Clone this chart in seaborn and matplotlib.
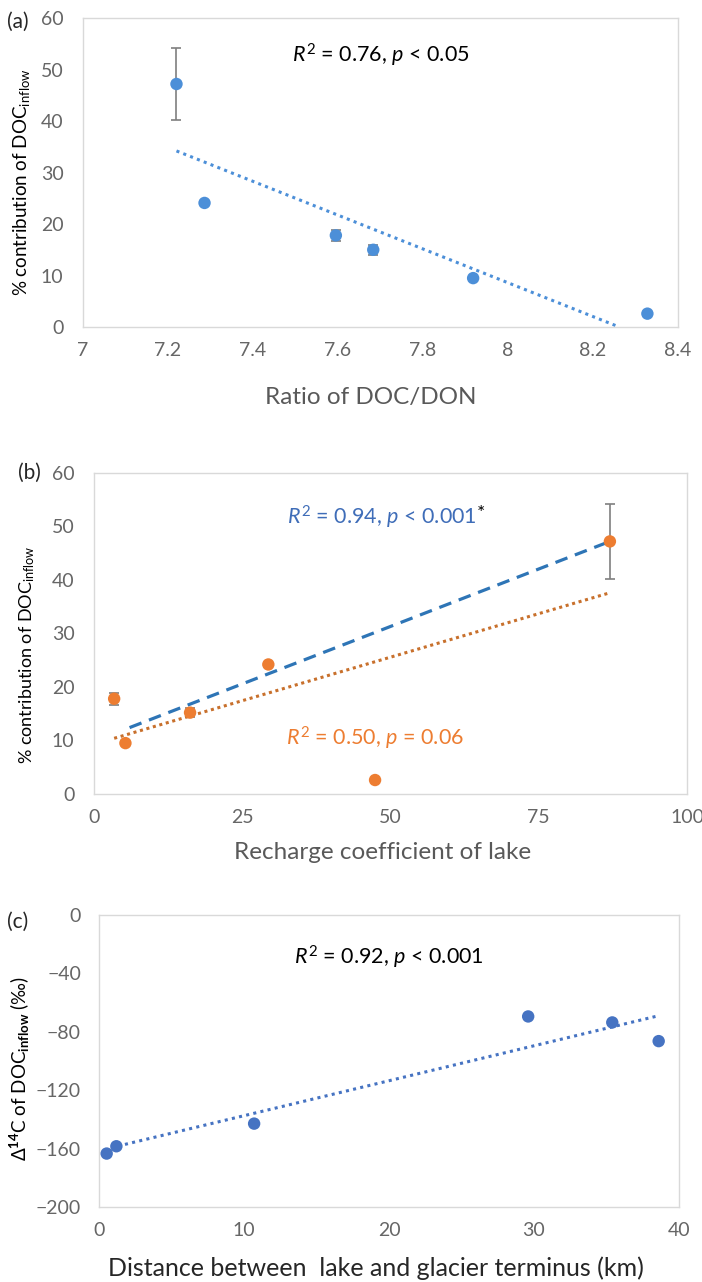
import numpy as np
import pandas as pd
import matplotlib
matplotlib.use("Agg")
import matplotlib.pyplot as plt
import seaborn as sns

# (a) DOC/DON ratio vs % contribution of DOC inflow
a_ratio = [7.22, 7.286, 7.595, 7.683, 7.918, 8.328]
a_contrib = [47.2, 24.1, 17.8, 15.0, 9.5, 2.6]
a_err = [7.0, 0.0, 1.0, 1.0, 0.0, 0.0]
a_fit_x = [7.22, 8.262]
a_fit_y = [34.2, 0.0]
a_xticks = [7, 7.2, 7.4, 7.6, 7.8, 8, 8.2, 8.4]
a_xticklabels = ["7", "7.2", "7.4", "7.6", "7.8", "8", "8.2", "8.4"]
a_yticks = [0, 10, 20, 30, 40, 50, 60]

# (b) recharge coefficient vs % contribution of DOC inflow
b_coef = [3.4, 5.3, 16.2, 29.4, 47.4, 87.0]
b_contrib = [17.8, 9.5, 15.2, 24.2, 2.6, 47.2]
b_err = [1.1, 0.0, 0.9, 0.0, 0.0, 7.0]
b_blue_fit_x = [6.0, 87.0]
b_blue_fit_y = [12.4, 47.2]
b_orange_fit_x = [3.4, 87.0]
b_orange_fit_y = [10.4, 37.6]
b_xticks = [0, 25, 50, 75, 100]
b_yticks = [0, 10, 20, 30, 40, 50, 60]

# (c) distance to glacier terminus vs D14C of DOC inflow
c_dist = [0.53, 1.2, 10.7, 29.6, 35.4, 38.6]
c_d14c = [-163.4, -158.4, -142.9, -69.5, -73.6, -86.4]
c_fit_x = [1.3, 38.6]
c_fit_y = [-158.3, -69.0]
c_xticks = [0, 10, 20, 30, 40]
c_yticks = [-200, -160, -120, -80, -40, 0]
c_yticklabels = ["\u2212200", "\u2212160", "\u2212120", "\u221280", "\u221240", "0"]

sns.set_theme(style="white")
plt.rcParams["font.family"] = ["Lato", "DejaVu Sans"]
plt.rcParams["mathtext.fontset"] = "custom"
plt.rcParams["mathtext.rm"] = "Lato"
plt.rcParams["mathtext.it"] = "Lato:italic"
plt.rcParams["mathtext.bf"] = "Lato:bold"

blue_a = "#4C8FD8"
blue_c = "#4673C2"
blue_line = "#2E75B6"
orange = "#ED7D31"
orange_line = "#C8702C"
gray = "#595959"
tick_gray = "#666666"
err_gray = "#7F7F7F"

fig = plt.figure(figsize=(7.02, 12.82), dpi=100)
ax_a = fig.add_axes([0.1182, 0.7449, 0.8476, 0.2410])
ax_b = fig.add_axes([0.1339, 0.3807, 0.8447, 0.2504])
ax_c = fig.add_axes([0.1410, 0.0585, 0.8262, 0.2278])


def style_axes(ax, ypad):
    for s in ax.spines.values():
        s.set_color("#D9D9D9")
        s.set_linewidth(1.0)
    ax.tick_params(length=0, labelsize=14, labelcolor=tick_gray)
    ax.tick_params(axis="x", pad=11)
    ax.tick_params(axis="y", pad=ypad)
    ax.grid(False)


def place_labels(ax, xpos, ypos):
    ax.xaxis.label.set_va("center")
    ax.yaxis.label.set_va("center")
    ax.xaxis.set_label_coords(*xpos)
    ax.yaxis.set_label_coords(*ypos)


# ---- (a)
df_a = pd.DataFrame({"ratio": a_ratio, "contrib": a_contrib, "err": a_err})
ax_a.errorbar(df_a["ratio"], df_a["contrib"], yerr=df_a["err"], fmt="none",
              ecolor=err_gray, elinewidth=1.2, capsize=3.5, capthick=1.2, zorder=2)
sns.scatterplot(data=df_a, x="ratio", y="contrib", ax=ax_a, color=blue_a,
                s=80, edgecolor="none", zorder=3)
sns.lineplot(x=a_fit_x, y=a_fit_y, ax=ax_a, color=blue_a, lw=2.2,
             linestyle=(0, (1, 1.4)), zorder=2)
ax_a.set_xlim(7, 8.4)
ax_a.set_ylim(0, 60)
ax_a.set_xticks(a_xticks)
ax_a.set_xticklabels(a_xticklabels)
ax_a.set_yticks(a_yticks)
style_axes(ax_a, 14)
ax_a.set_xlabel("Ratio of DOC/DON", fontsize=17.5, color=gray)
ax_a.set_ylabel(r"% contribution of DOC$_{\mathrm{inflow}}$", fontsize=13.5, color="black")
place_labels(ax_a, (0.483, -0.227), (-0.103, 0.47))
ax_a.text(0.50, 0.88, r"$R^{2}$ = 0.76, $p$ < 0.05", transform=ax_a.transAxes,
          ha="center", va="center", fontsize=15.5, color="black")

# ---- (b)
df_b = pd.DataFrame({"coef": b_coef, "contrib": b_contrib, "err": b_err})
ax_b.errorbar(df_b["coef"], df_b["contrib"], yerr=df_b["err"], fmt="none",
              ecolor=err_gray, elinewidth=1.2, capsize=3.5, capthick=1.2, zorder=2)
sns.lineplot(x=b_blue_fit_x, y=b_blue_fit_y, ax=ax_b, color=blue_line, lw=2.3,
             linestyle=(0, (4, 2.5)), zorder=2)
sns.lineplot(x=b_orange_fit_x, y=b_orange_fit_y, ax=ax_b, color=orange_line, lw=2.2,
             linestyle=(0, (1, 1.2)), zorder=2)
sns.scatterplot(data=df_b, x="coef", y="contrib", ax=ax_b, color=orange,
                s=80, edgecolor="none", zorder=3)
ax_b.set_xlim(0, 100)
ax_b.set_ylim(0, 60)
ax_b.set_xticks(b_xticks)
ax_b.set_yticks(b_yticks)
style_axes(ax_b, 14)
ax_b.set_xlabel("Recharge coefficient of lake", fontsize=17.5, color=gray)
ax_b.set_ylabel(r"% contribution of DOC$_{\mathrm{inflow}}$", fontsize=13, color="black")
place_labels(ax_b, (0.487, -0.181), (-0.113, 0.433))
t_blue = ax_b.text(0.486, 0.863, r"$R^{2}$ = 0.94, $p$ < 0.001", transform=ax_b.transAxes,
                   ha="center", va="center", fontsize=15.5, color="#3F6DB8")
ax_b.annotate("*", xy=(1.0, 0.62), xycoords=t_blue, ha="left", va="center",
              fontsize=14, color="black")
ax_b.text(0.474, 0.174, r"$R^{2}$ = 0.50, $p$ = 0.06", transform=ax_b.transAxes,
          ha="center", va="center", fontsize=15.5, color=orange)

# ---- (c)
df_c = pd.DataFrame({"dist": c_dist, "d14c": c_d14c})
sns.lineplot(x=c_fit_x, y=c_fit_y, ax=ax_c, color=blue_c, lw=2.2,
             linestyle=(0, (1, 1.4)), zorder=2)
sns.scatterplot(data=df_c, x="dist", y="d14c", ax=ax_c, color=blue_c,
                s=80, edgecolor="none", zorder=3)
ax_c.set_xlim(0, 40)
ax_c.set_ylim(-200, 0)
ax_c.set_xticks(c_xticks)
ax_c.set_yticks(c_yticks)
ax_c.set_yticklabels(c_yticklabels)
style_axes(ax_c, 13)
ax_c.set_xlabel("Distance between  lake and glacier terminus (km)", fontsize=18,
                color="#262626")
ax_c.set_ylabel(r"$\Delta^{\mathbf{14}}$C of DOC$_{\mathbf{inflow}}$ (" + "\u2030)",
                fontsize=13.5, color="black")
place_labels(ax_c, (0.478, -0.209), (-0.136, 0.476))
ax_c.text(0.50, 0.853, r"$R^{2}$ = 0.92, $p$ < 0.001", transform=ax_c.transAxes,
          ha="center", va="center", fontsize=15.5, color="black")

# panel letters
fig.text(18 / 702, 1 - 22 / 1282, "(a)", fontsize=15, ha="center", va="center")
fig.text(29 / 702, 1 - 473 / 1282, "(b)", fontsize=15, ha="center", va="center")
fig.text(18 / 702, 1 - 922 / 1282, "(c)", fontsize=15, ha="center", va="center")

fig.savefig("out.png", dpi=100)
